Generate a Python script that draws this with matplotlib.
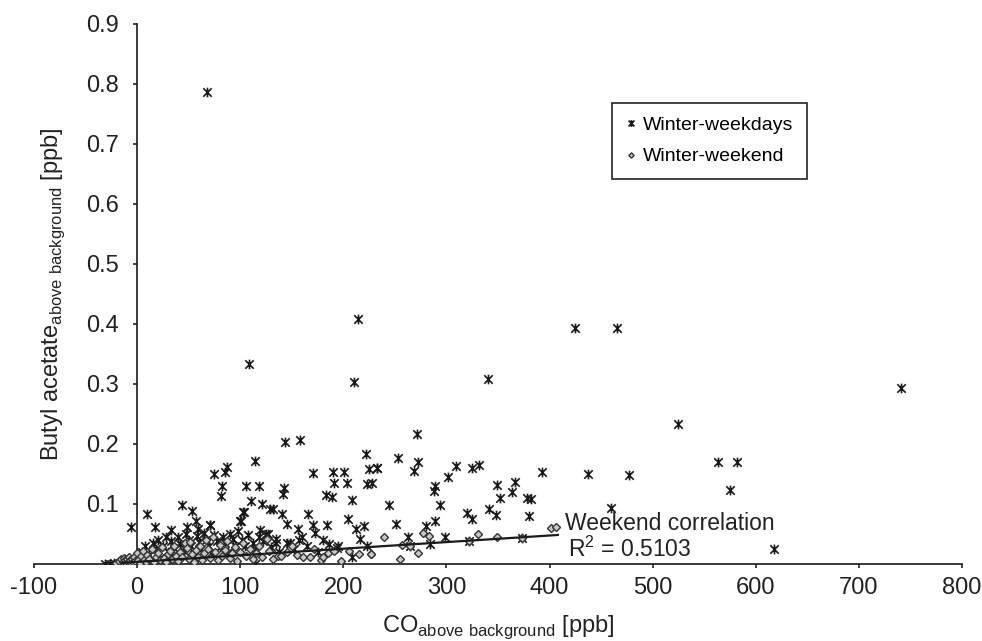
import matplotlib
matplotlib.use('Agg')
import matplotlib.pyplot as plt
from matplotlib.path import Path
import numpy as np

plt.rcParams['font.family'] = ['Liberation Sans', 'DejaVu Sans']
plt.rcParams['mathtext.fontset'] = 'custom'
plt.rcParams['mathtext.rm'] = 'Liberation Sans'
plt.rcParams['axes.unicode_minus'] = False

# Winter weekdays (CO above background [ppb], butyl acetate above background [ppb])
weekday_co = [68, 108.6, 214, 210, 425, 465, 340, 525, 741, 563, 582, 477, 575, 460, 618, 437, 392.5,
              -5.8, 10, 17, 32.6, 43.6, 53.7, 57, 48.8, 59.5, 71, 81.5, 110, 103, 100.5,
              143.9, 158, 114.5, 222.4, 74.7, 87, 85.4, 82.8, 105.4, 118, 142.8, 141.6, 121, 128.4,
              131.7, 141, 104, 100.2, 145.2, 171, 189.5, 200.4, 191.3, 203.7, 183, 189, 208, 225,
              232.4, 222.8, 228, 166, 170.4, 172.6, 184.3, 155.8, 204.3, 212.4, 219.9, 216.3, 70.8,
              119.6, 127.3, 134.8, 145.8, 157.4, 186, 193.6, 208, 222.8, 114.5,
              271.3, 253.5, 272.2, 268.3, 233, 309.4, 325, 332, 301.6, 288.7, 288.3, 293.6, 349.5,
              366.4, 351.7, 363.7, 378, 381.7, 341.7, 347.9, 320.4, 324.3, 380.4, 244, 250.6, 289,
              280, 262.5, 299, 264.8, 284.2, 322.3, 373, -31, -26, -19,
              0, 5, 8, 12, 15, 18, 20, 22, 25, 28, 30, 33, 36, 38, 40, 42, 45, 47, 50, 52, 55, 58,
              60, 62, 65, 67, 70, 72, 75, 77, 80, 83, 85, 88, 90, 93, 95, 98, 102, 105, 108, 112,
              115, 118, 122, 125, 130, 135, 138, 148, 152, 160, 165, 175, 180, 195, -10, -15, -22,
              2, -3]
weekday_ba = [0.786, 0.333, 0.408, 0.303, 0.394, 0.393, 0.308, 0.233, 0.293, 0.170, 0.170, 0.148,
              0.123, 0.094, 0.0245, 0.1505, 0.153,
              0.062, 0.083, 0.061, 0.056, 0.098, 0.088, 0.072, 0.061, 0.058, 0.065, 0.114, 0.105,
              0.087, 0.072,
              0.203, 0.206, 0.172, 0.183, 0.150, 0.162, 0.154, 0.130, 0.130, 0.130, 0.126, 0.116,
              0.0995, 0.0917, 0.0917, 0.083, 0.0867, 0.0717, 0.067, 0.152, 0.153, 0.153, 0.1355,
              0.1345, 0.115, 0.111, 0.1067, 0.158, 0.1605, 0.133, 0.1345, 0.083, 0.065, 0.052,
              0.065, 0.058, 0.075, 0.058, 0.064, 0.041, 0.0645, 0.057, 0.0495, 0.0345, 0.0345,
              0.040, 0.033, 0.027, 0.012, 0.030, 0.0,
              0.216, 0.176, 0.170, 0.1545, 0.160, 0.163, 0.160, 0.1655, 0.145, 0.130, 0.122, 0.098,
              0.132, 0.1367, 0.1095, 0.1195, 0.1105, 0.108, 0.091, 0.082, 0.0845, 0.0755, 0.080,
              0.098, 0.066, 0.072, 0.064, 0.045, 0.0445, 0.030, 0.033, 0.038, 0.043, 0.0, 0.0, 0.0,
              0.012, 0.020, 0.030, 0.015, 0.035, 0.025, 0.040, 0.010, 0.030, 0.045, 0.020, 0.038,
              0.027, 0.012, 0.045, 0.033, 0.022, 0.050, 0.040, 0.030, 0.015, 0.047, 0.036, 0.025,
              0.052, 0.040, 0.030, 0.018, 0.048, 0.038, 0.028, 0.045, 0.035, 0.020, 0.050, 0.042,
              0.030, 0.055, 0.040, 0.030, 0.048, 0.035, 0.025, 0.045, 0.038, 0.050, 0.028, 0.042,
              0.020, 0.035, 0.025, 0.045, 0.030, 0.020, 0.040, 0.030, 0.005, 0.002, 0.001, 0.003,
              0.008]

# Winter weekend
weekend_co = [-20, -18, -16, -14, -13, -12, -11, -10, -9, -8, -7, -6, -5, -4, -3, -2, 0, 1, 3, 4, 6,
              7, 9, 10, 12, 14, 16, 18, 20, 22, 24, 26, 28, 30, 32, 34, 36, 38, 40, 42, 44, 46, 48,
              50, 51, 53, 55, 57, 59, 61, 63, 65, 67, 69, 71, 74, 76, 78, 80, 82, 85, 87, 90, 92,
              95, 97, 100, 103, 106, 109, 112, 115, 118, 121, 126, 128, 132, 137, 140, 145, 150,
              155, 161, 168, 172, 178, 185, 191, 205.6, 215.6, 226.6, 227, 239.6, 257.3, 277.7,
              283.2, 272.8, 255.4, 331, 349, 401.8, 406.4, 373, 322.3, 264.8, 180, 198]
weekend_ba = [0.002, 0.005, 0.008, 0.004, 0.010, 0.006, 0.002, 0.009, 0.004, 0.012, 0.006, 0.001,
              0.008, 0.003, 0.011, 0.005, 0.018, 0.007, 0.002, 0.013, 0.022, 0.006, 0.003, 0.015,
              0.009, 0.025, 0.004, 0.012, 0.018, 0.006, 0.028, 0.010, 0.003, 0.016, 0.022, 0.008,
              0.030, 0.014, 0.005, 0.020, 0.011, 0.035, 0.026, 0.008, 0.037, 0.016, 0.004, 0.023,
              0.012, 0.030, 0.007, 0.018, 0.040, 0.025, 0.010, 0.045, 0.020, 0.006, 0.032, 0.014,
              0.024, 0.038, 0.010, 0.018, 0.028, 0.005, 0.020, 0.035, 0.013, 0.025, 0.008, 0.018,
              0.030, 0.012, 0.041, 0.022, 0.008, 0.013, 0.013, 0.020, 0.030, 0.015, 0.011, 0.012,
              0.025, 0.006, 0.018, 0.022, 0.022, 0.0167, 0.0167, 0.0167, 0.045, 0.0317, 0.051,
              0.0467, 0.0178, 0.0078, 0.0506, 0.0456, 0.060, 0.0617, 0.043, 0.038, 0.030, 0.012,
              0.005]

# weekend linear fit
trend_x = [-15, 408]
trend_intercept = 0.0035
trend_slope = 0.000110

# Excel-like asterisk marker: X plus vertical bar
star = Path([(-1, -1), (1, 1), (-1, 1), (1, -1), (0, -1.15), (0, 1.15)],
            [Path.MOVETO, Path.LINETO, Path.MOVETO, Path.LINETO, Path.MOVETO, Path.LINETO])

fig = plt.figure(figsize=(9.82, 6.41), dpi=100)
ax = fig.add_axes([34/982, 77/641, 928/982, 540/641])

ax.plot(weekday_co, weekday_ba, linestyle='none', marker=star, markersize=7,
        markeredgecolor='#1a1a1a', markeredgewidth=1.2, label='Winter-weekdays', zorder=3)
ax.plot(weekend_co, weekend_ba, linestyle='none', marker='D', markersize=3.8,
        markerfacecolor='#c8c8c8', markeredgecolor='#333333', markeredgewidth=1.0,
        label='Winter-weekend', zorder=4)

tx = np.array(trend_x)
ax.plot(tx, trend_intercept + trend_slope * tx, color='#1a1a1a', lw=1.6, zorder=5)

ax.text(415, 0.0567, 'Weekend correlation', fontsize=16.5, color='#222222', va='baseline')
ax.text(418, 0.0117, 'R$^2$ = 0.5103', fontsize=16.5, color='#222222', va='baseline')

ax.set_xlim(-100, 800)
ax.set_ylim(0, 0.9)
ax.spines['left'].set_position(('data', 0))
ax.spines['bottom'].set_position(('data', 0))
ax.spines['top'].set_visible(False)
ax.spines['right'].set_visible(False)
for s in ('left', 'bottom'):
    ax.spines[s].set_linewidth(1.2)
    ax.spines[s].set_color('#1a1a1a')

ax.set_xticks(np.arange(-100, 801, 100))
ax.set_yticks(np.arange(0.1, 0.91, 0.1))
ax.set_yticklabels([f'{v:.1f}' for v in np.arange(0.1, 0.91, 0.1)])
ax.tick_params(axis='x', direction='out', length=3, width=1.2, pad=6.5, labelsize=17,
               colors='#222222')
ax.tick_params(axis='y', direction='out', length=3, width=1.2, pad=10, labelsize=17,
               colors='#222222')

ax.set_xlabel(r'CO$_{\mathregular{above\ background}}$ [ppb]', fontsize=17, color='#222222')
ax.xaxis.set_label_coords(0.5, -0.092)
ax.set_ylabel(r'Butyl acetate$_{\mathregular{above\ background}}$ [ppb]', fontsize=17,
              color='#222222')
ax.yaxis.set_label_coords(0.036, 0.5)

leg = ax.legend(loc='lower left', bbox_to_anchor=(0.623, 0.713), borderaxespad=0,
                fontsize=14, fancybox=False, framealpha=1, edgecolor='#222222',
                handletextpad=0.4, handlelength=0.5, borderpad=0.7, labelspacing=0.7,
                markerscale=0.7)
leg.get_frame().set_linewidth(1.2)

fig.savefig('out.png', dpi=100)
